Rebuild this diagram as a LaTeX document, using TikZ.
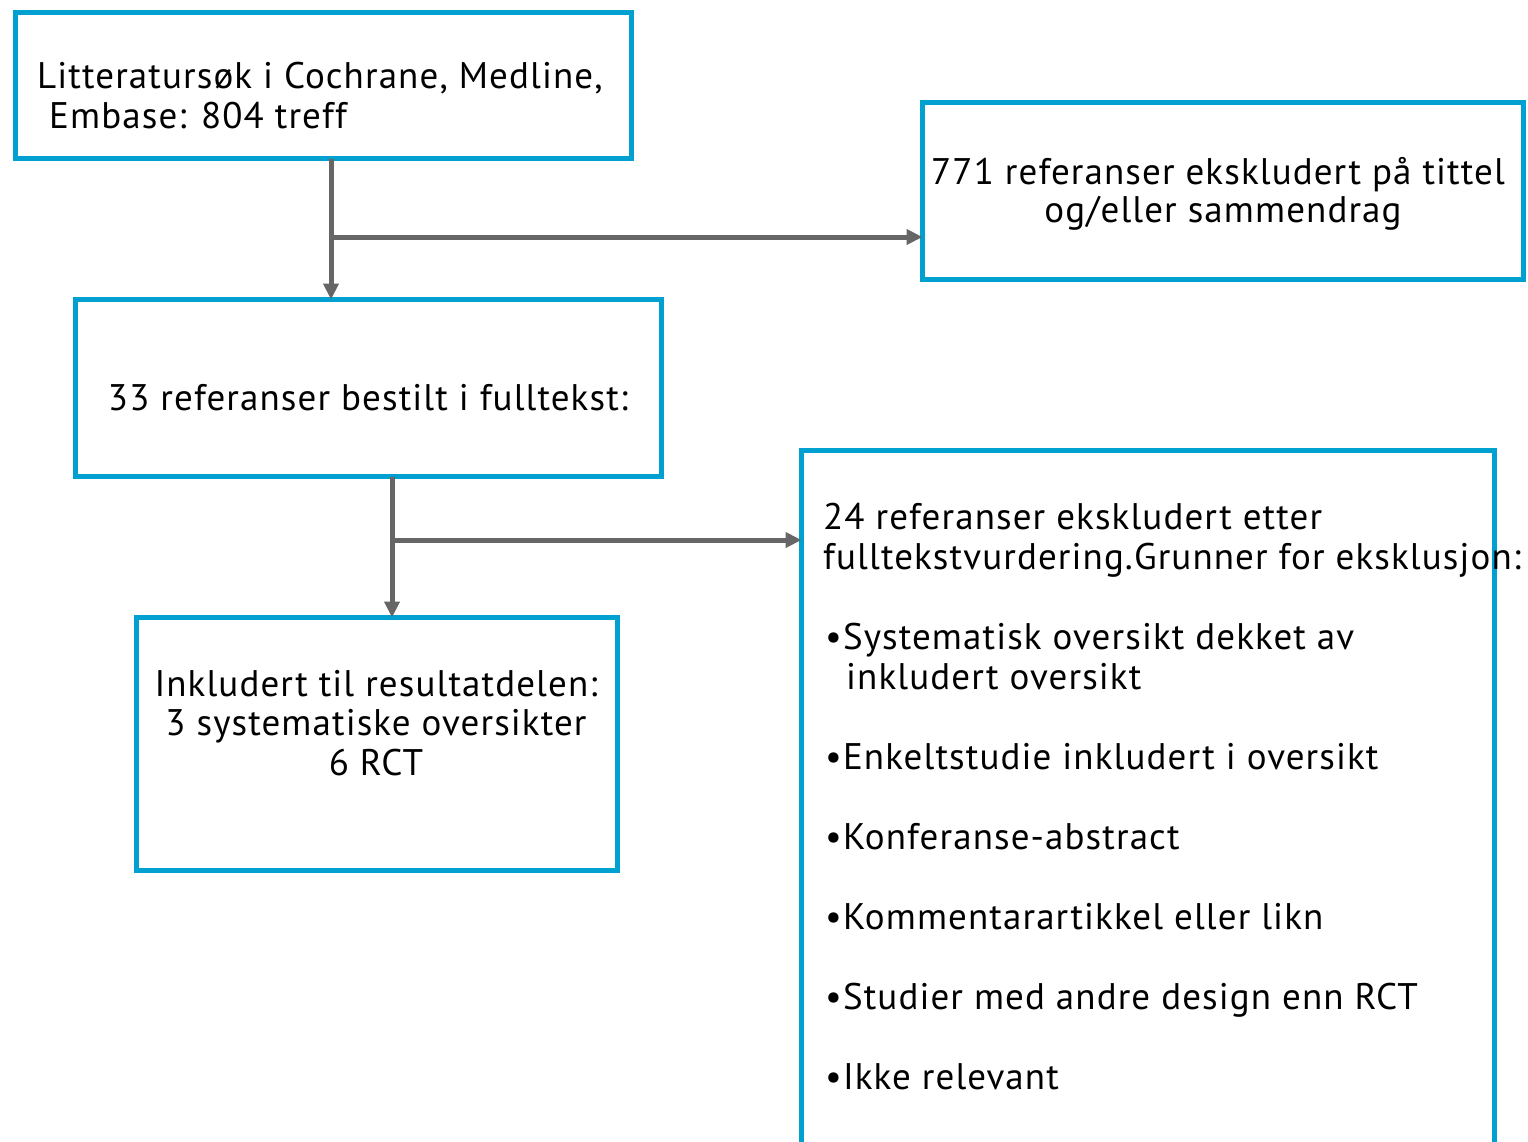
\documentclass[tikz,border=0pt]{standalone}
\usepackage{fontspec}
\setmainfont{PT Sans}[LetterSpace=3]
\usetikzlibrary{arrows.meta}
\definecolor{boxblue}{RGB}{0,160,208}
\definecolor{arrgray}{RGB}{102,102,102}
\tikzset{
  box/.style={draw=boxblue, line width=5.5pt, rectangle, inner sep=0pt, outer sep=0pt, anchor=north west},
  conn/.style={draw=arrgray, line width=5pt, -{Triangle[length=16pt,width=15pt]}},
  txt/.style={inner sep=0pt, font=\fontsize{37}{40}\selectfont, text=black},
}
\begin{document}
\begin{tikzpicture}[x=1pt,y=-1pt]
\useasboundingbox (0,0) rectangle (1528,1141);
% boxes
\node[box, minimum width=616pt, minimum height=146pt] (A) at (15.5,12.5) {};
\node[box, minimum width=601pt, minimum height=177pt] (B) at (922.5,102.5) {};
\node[box, minimum width=586pt, minimum height=177pt] (C) at (75.5,299.5) {};
\node[box, minimum width=481pt, minimum height=253pt] (D) at (136.5,617.5) {};
\node[box, minimum width=693pt, minimum height=720pt] (E) at (801.5,450.5) {};
% texts
\node[txt, anchor=base west] (a1) at (37,88) {Litteratursøk i Cochrane, Medline,};
\node[txt, anchor=base west] (a2) at (49,128) {Embase: 804 treff};
\node[txt, anchor=base] (b1) at (1218,184) {771 referanser ekskludert på tittel};
\node[txt, anchor=base] (b2) at (1223,222) {og/eller sammendrag};
\node[txt, anchor=base] (c1) at (368,410) {33 referanser bestilt i fulltekst:};
\node[txt, anchor=base] (d1) at (376,696) {Inkludert til resultatdelen:};
\node[txt, anchor=base] (d2) at (376,735) {3 systematiske oversikter};
\node[txt, anchor=base] (d3) at (376,775) {6 RCT};
\node[txt, anchor=base west] (e1) at (823,529) {24 referanser ekskludert etter};
\node[txt, anchor=base west] (e2) at (823,569) {fulltekstvurdering.Grunner for eksklusjon:};
\node[txt, anchor=base west] (e3) at (825,649) {•Systematisk oversikt dekket av};
\node[txt, anchor=base west] (e4) at (846,689) {inkludert oversikt};
\node[txt, anchor=base west] (e5) at (825,769) {•Enkeltstudie inkludert i oversikt};
\node[txt, anchor=base west] (e6) at (825,849) {•Konferanse-abstract};
\node[txt, anchor=base west] (e7) at (825,929) {•Kommentarartikkel eller likn};
\node[txt, anchor=base west] (e8) at (825,1009) {•Studier med andre design enn RCT};
\node[txt, anchor=base west] (e9) at (825,1089) {•Ikke relevant};
% connectors
\coordinate (k1) at (331,237);
\coordinate (k2) at (392,540);
\draw[conn] (A.south -| k1) -- (C.north -| k1);
\draw[conn] (k1) -- (k1 -| B.west);
\draw[conn] (C.south -| k2) -- (D.north -| k2);
\draw[conn] (k2) -- (k2 -| E.west);
\end{tikzpicture}
\end{document}
